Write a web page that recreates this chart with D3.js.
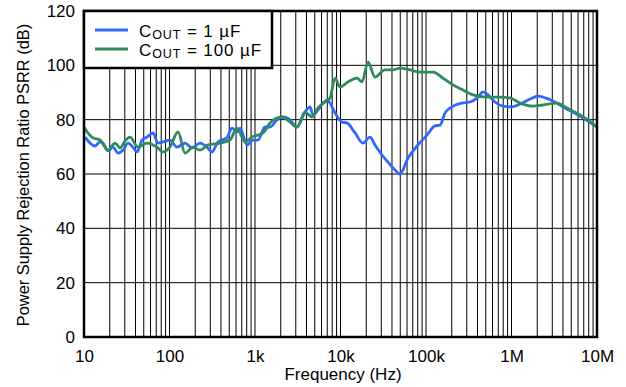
<!DOCTYPE html>
<html>
<head>
<meta charset="utf-8">
<script src="https://cdn.jsdelivr.net/npm/d3@7"></script>
<style>
  html, body { margin: 0; padding: 0; background: #fff; }
  svg { display: block; }
  text { font-family: "Liberation Sans", Arial, Helvetica, sans-serif; fill: #000; }
</style>
</head>
<body>
<svg id="chart" width="626" height="387"></svg>
<script>
// ---- data ----
const seriesNames = ["1 µF", "100 µF"];
const yTicks = [0, 20, 40, 60, 80, 100, 120];
const xTicks = [10, 100, 1e3, 1e4, 1e5, 1e6, 1e7];
const xTickLabels = ["10", "100", "1k", "10k", "100k", "1M", "10M"];

const freq1 = [10.3, 11.8, 13.4, 15.4, 16.7, 19.1, 21.8, 25.0, 28.6, 32.7, 37.4, 41.7, 47.7, 54.6, 64.1, 73.4, 83.9, 101, 122, 152, 183, 227, 275, 314, 369, 470, 538, 616, 668, 806, 948, 1080, 1310, 1500, 1810, 2130, 2570, 3100, 3840, 4400, 4770, 5460, 6240, 6950, 7540, 8630, 10400, 11900, 14800, 18300, 22100, 25300, 30600, 35900, 43400, 49700, 61600, 80600, 103000, 127000, 146000, 167000, 201000, 264000, 327000, 406000, 464000, 531000, 641000, 795000, 1010000, 1260000, 1650000, 2040000, 2470000, 3060000, 4230000, 6000000, 7850000, 10000000];
const psrr1 = [73.6, 71.4, 70.3, 71.8, 71.4, 68.5, 69.9, 67.7, 68.8, 71.4, 69.9, 68.1, 72.5, 73.6, 75.1, 71.4, 71.8, 72.5, 69.9, 71.4, 69.6, 71.4, 69.9, 68.1, 71.8, 73.3, 76.9, 75.5, 76.9, 70.7, 72.5, 72.5, 77.3, 77.3, 79.9, 81.0, 79.9, 77.3, 82.8, 84.7, 81.7, 83.6, 86.1, 87.2, 86.1, 82.5, 79.1, 78.8, 75.1, 71.4, 73.6, 70.7, 67.0, 64.4, 61.5, 60.0, 65.9, 70.7, 74.4, 77.7, 78.0, 82.5, 84.7, 86.1, 86.5, 88.3, 90.2, 89.1, 86.5, 85.0, 84.7, 85.8, 87.6, 88.7, 88.0, 86.9, 84.3, 81.7, 79.5, 77.3];

const freq100 = [10, 11.1, 12.7, 15.4, 19.1, 23.1, 26.4, 30.2, 34.5, 42.8, 54.6, 71.4, 83.9, 101, 126, 152, 188, 227, 282, 390, 510, 616, 764, 922, 1240, 1500, 2070, 2570, 3100, 3840, 4640, 5460, 6590, 7540, 8630, 9860, 12200, 15600, 17800, 21000, 25300, 33100, 41100, 49700, 65000, 85100, 121000, 158000, 207000, 271000, 355000, 517000, 733000, 960000, 1260000, 1780000, 2330000, 3400000, 4460000, 6330000, 7850000, 10000000];
const psrr100 = [77.3, 75.1, 73.3, 72.5, 68.8, 71.4, 69.6, 72.2, 73.6, 69.9, 71.4, 69.9, 68.1, 69.9, 75.5, 67.7, 69.9, 68.8, 70.7, 71.4, 72.5, 76.9, 71.8, 73.6, 75.1, 78.8, 81.0, 79.1, 77.3, 82.8, 81.0, 84.3, 86.5, 88.0, 95.3, 92.0, 93.9, 95.3, 93.9, 101.2, 95.7, 98.3, 98.3, 99.0, 98.3, 97.5, 97.5, 95.3, 92.8, 90.9, 89.1, 88.3, 88.3, 88.0, 86.1, 85.0, 85.4, 86.1, 84.3, 81.7, 79.9, 77.3];

const colors = ["#3068ff", "#2e8b5a"];

// ---- chart ----
const svg = d3.select("#chart");
const pL = 84, pR = 597, pT = 11, pB = 337;
const x = d3.scaleLog().domain([10, 1e7]).range([pL, pR]);
const y = d3.scaleLinear().domain([0, 120]).range([pB, pT]);

// vertical grid (log minor + major)
const vGrid = [];
for (let e = 1; e < 7; e++) {
  for (let m = 1; m <= 9; m++) vGrid.push(m * Math.pow(10, e));
}
svg.append("g").selectAll("line").data(vGrid.filter(v => v > 10 && v < 1e7)).join("line")
  .attr("x1", d => x(d)).attr("x2", d => x(d))
  .attr("y1", pT).attr("y2", pB)
  .attr("stroke", "#000").attr("stroke-width", 1);

svg.append("g").selectAll("line").data(yTicks.filter(v => v > 0 && v < 120)).join("line")
  .attr("x1", pL).attr("x2", pR)
  .attr("y1", d => y(d)).attr("y2", d => y(d))
  .attr("stroke", "#000").attr("stroke-width", 1);

// series lines
const line = d3.line().x(d => x(d[0])).y(d => y(d[1])).curve(d3.curveMonotoneX);
const data1 = freq1.map((f, i) => [f, psrr1[i]]);
const data100 = freq100.map((f, i) => [f, psrr100[i]]);
svg.append("path").datum(data1).attr("d", line)
  .attr("fill", "none").attr("stroke", colors[0]).attr("stroke-width", 2.8).attr("stroke-linejoin", "round");
svg.append("path").datum(data100).attr("d", line)
  .attr("fill", "none").attr("stroke", colors[1]).attr("stroke-width", 2.8).attr("stroke-linejoin", "round");

// frame
svg.append("rect").attr("x", pL).attr("y", pT).attr("width", pR - pL).attr("height", pB - pT)
  .attr("fill", "none").attr("stroke", "#000").attr("stroke-width", 2.5);

// axes labels
const yAxis = d3.axisLeft(y).tickValues(yTicks).tickSize(0).tickPadding(9);
const gy = svg.append("g").attr("transform", `translate(${pL},0)`).call(yAxis);
gy.select(".domain").remove();
gy.attr("font-family", null).attr("font-size", null);
gy.selectAll("text").style("font-size", "17px");

const xAxis = d3.axisBottom(x).tickValues(xTicks).tickFormat((d, i) => xTickLabels[i]).tickSize(0).tickPadding(13);
const gx = svg.append("g").attr("transform", `translate(0,${pB})`).call(xAxis);
gx.select(".domain").remove();
gx.attr("font-family", null).attr("font-size", null);
gx.selectAll("text").style("font-size", "17px");

// axis titles
svg.append("text").attr("x", 343).attr("y", 380).attr("text-anchor", "middle")
  .style("font-size", "17px").text("Frequency (Hz)");
svg.append("text").attr("transform", `translate(28.5,175) rotate(-90)`)
  .attr("text-anchor", "middle").style("font-size", "16.4px")
  .text("Power Supply Rejection Ratio PSRR (dB)");

// legend
const lg = svg.append("g");
lg.append("rect").attr("x", pL).attr("y", pT).attr("width", 188).attr("height", 57)
  .attr("fill", "#fff").attr("stroke", "#000").attr("stroke-width", 2.5);
seriesNames.forEach((name, i) => {
  const yy = 30 + i * 19;
  lg.append("line").attr("x1", 95).attr("x2", 128).attr("y1", yy).attr("y2", yy)
    .attr("stroke", colors[i]).attr("stroke-width", 3);
  const t = lg.append("text").attr("x", 139).attr("y", yy + 6.5).style("font-size", "17px")
    .style("letter-spacing", "0.9px");
  t.append("tspan").text("C");
  t.append("tspan").attr("dy", 2).style("font-size", "12.5px").text("OUT");
  t.append("tspan").attr("dy", -2).text(" = " + name);
});
</script>
</body>
</html>
